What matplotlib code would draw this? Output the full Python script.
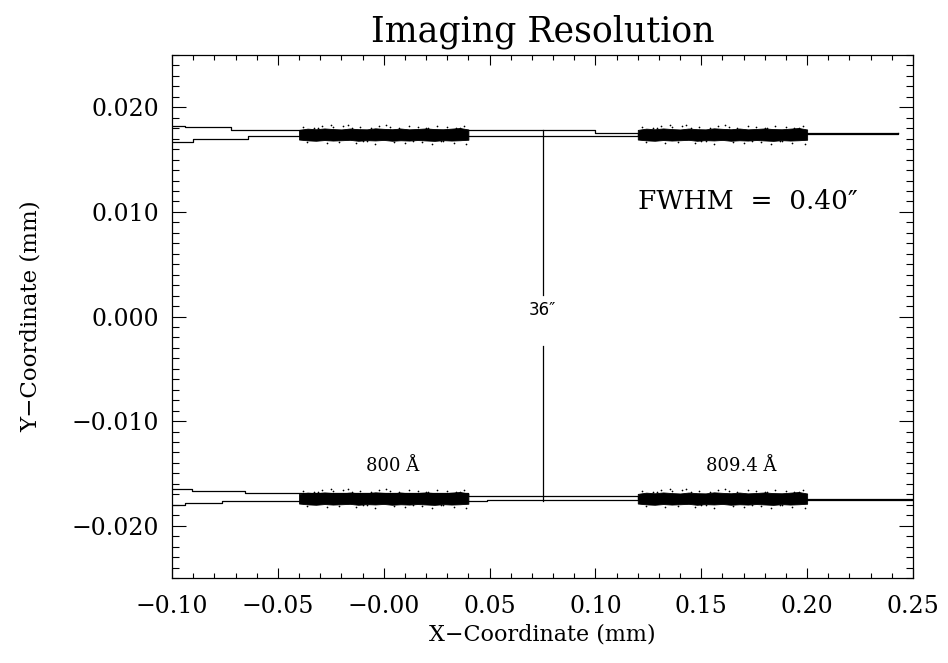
import matplotlib
matplotlib.use("Agg")
import matplotlib.pyplot as plt
from matplotlib.ticker import MultipleLocator

# ---------------- data ----------------
x_limits = [-0.10, 0.25]
y_limits = [-0.025, 0.025]
x_ticks = [-0.10, -0.05, 0.00, 0.05, 0.10, 0.15, 0.20, 0.25]
x_tick_labels = ["\u22120.10", "\u22120.05", "\u22120.00", "0.05", "0.10", "0.15", "0.20", "0.25"]
y_ticks = [-0.020, -0.010, 0.000, 0.010, 0.020]
y_tick_labels = ["\u22120.020", "\u22120.010", "0.000", "0.010", "0.020"]

# spot clouds: centre x, centre y
spot_centre_x = [0.000, 0.160, 0.000, 0.160]
spot_centre_y = [0.0174, 0.0174, -0.0174, -0.0174]
# shared spot profile: x offsets, upper and lower half-thickness of the dense core
spot_dx = [-0.040, -0.036, -0.032, -0.028, -0.024, -0.020, -0.016, -0.012, -0.008, -0.004,
           0.000, 0.004, 0.008, 0.012, 0.016, 0.020, 0.024, 0.028, 0.032, 0.036, 0.040]
spot_up = [0.00044, 0.00056, 0.00050, 0.00058, 0.00052, 0.00048, 0.00057, 0.00051, 0.00049, 0.00059,
           0.00054, 0.00050, 0.00057, 0.00049, 0.00053, 0.00058, 0.00052, 0.00050, 0.00056, 0.00062, 0.00048]
spot_dn = [0.00048, 0.00056, 0.00060, 0.00053, 0.00058, 0.00055, 0.00051, 0.00060, 0.00054, 0.00057,
           0.00052, 0.00060, 0.00055, 0.00058, 0.00053, 0.00057, 0.00061, 0.00054, 0.00058, 0.00055, 0.00050]
# stray rays around each spot (offsets from centre)
stray_dx = [-0.038, -0.033, -0.029, -0.024, -0.019, -0.015, -0.011, -0.006, -0.002, 0.003,
            0.007, 0.012, 0.016, 0.021, 0.025, 0.030, 0.034, 0.038, -0.036, -0.027,
            -0.021, -0.013, -0.004, 0.005, 0.010, 0.018, 0.023, 0.028, 0.033, 0.039,
            -0.031, -0.017, -0.008, 0.001, 0.014, 0.027, 0.036, -0.025, -0.010, 0.020]
stray_dy = [0.00072, 0.00063, 0.00081, 0.00067, 0.00085, 0.00064, 0.00076, 0.00066, 0.00083, 0.00069,
            0.00062, 0.00079, 0.00068, 0.00065, 0.00082, 0.00073, 0.00066, 0.00086,
            -0.00074, -0.00086, -0.00067, -0.00079, -0.00090, -0.00068, -0.00083, -0.00071, -0.00088,
            -0.00066, -0.00080, -0.00092,
            0.00064, 0.00090, -0.00066, 0.00088, -0.00065, -0.00062, 0.00066, 0.00087, -0.00064, 0.00064]

# beam outline step lines (upper pair)
ua_x = [-0.100, -0.094, -0.072, 0.0998, 0.243]
ua_y = [0.01819, 0.01807, 0.01786, 0.01757, 0.01757]
ub_x = [-0.100, -0.090, -0.064, 0.120, 0.243, 0.243]
ub_y = [0.01667, 0.01695, 0.01724, 0.01745, 0.01745, 0.01757]
# beam outline step lines (lower pair)
la_x = [-0.100, -0.0906, -0.0655, 0.040, 0.120, 0.260]
la_y = [-0.01648, -0.01670, -0.01690, -0.01715, -0.01740, -0.01740]
lb_x = [-0.100, -0.0939, -0.0765, 0.049, 0.0998, 0.260]
lb_y = [-0.01805, -0.01781, -0.01765, -0.01759, -0.01750, -0.01750]

# separation marker
sep_x = 0.075
sep_top, sep_gap_top, sep_gap_bot, sep_bot = 0.0178, 0.0021, -0.0028, -0.0176
sep_label = "36\u2033"
sep_label_y = 0.0006

wave_labels = ["800 \u00c5", "809.4 \u00c5"]
wave_label_x = [0.004, 0.169]
wave_label_y = -0.0143
fwhm_text = "FWHM  =  0.40\u2033"
fwhm_xy = (0.172, 0.0110)

# ---------------- figure ----------------
plt.rcParams['font.family'] = ['DejaVu Serif']
fig = plt.figure(figsize=(9.48, 6.63), dpi=100)
ax = fig.add_axes([172 / 948, 85 / 663, 741 / 948, 523 / 663])

for cx, cy in zip(spot_centre_x, spot_centre_y):
    xs = [cx + d for d in spot_dx]
    ax.fill_between(xs, [cy + u for u in spot_up], [cy - d for d in spot_dn],
                    color="black", linewidth=0.6, zorder=3)
    ax.scatter([cx + d for d in stray_dx], [cy + d for d in stray_dy],
               s=1.5, color="black", linewidths=0, zorder=3)

for xs, ys in [(ua_x, ua_y), (ub_x, ub_y), (la_x, la_y), (lb_x, lb_y)]:
    ax.plot(xs, ys, drawstyle="steps-post", color="black", linewidth=0.9, zorder=2)

ax.plot([sep_x, sep_x], [sep_top, sep_gap_top], color="black", linewidth=0.9)
ax.plot([sep_x, sep_x], [sep_gap_bot, sep_bot], color="black", linewidth=0.9)
ax.text(sep_x, sep_label_y, sep_label, ha="center", va="center", fontsize=12,
        family=["DejaVu Sans"])

for t, x in zip(wave_labels, wave_label_x):
    ax.text(x, wave_label_y, t, ha="center", va="center", fontsize=13)
ax.text(fwhm_xy[0], fwhm_xy[1], fwhm_text, ha="center", va="center", fontsize=19)

ax.set_xlim(*x_limits)
ax.set_ylim(*y_limits)
ax.set_xticks(x_ticks)
ax.set_xticklabels(x_tick_labels)
ax.set_yticks(y_ticks)
ax.set_yticklabels(y_tick_labels)
ax.xaxis.set_minor_locator(MultipleLocator(0.01))
ax.yaxis.set_minor_locator(MultipleLocator(0.001))
ax.tick_params(axis="both", which="both", direction="in", top=True, right=True,
               width=0.8, labelsize=17, colors="black")
ax.tick_params(axis="x", which="major", length=7.2, pad=12)
ax.tick_params(axis="x", which="minor", length=3.6)
ax.tick_params(axis="y", which="major", length=10, pad=9)
ax.tick_params(axis="y", which="minor", length=5)
for s in ax.spines.values():
    s.set_linewidth(0.9)

ax.set_xlabel("X\u2212Coordinate (mm)", fontsize=16, labelpad=4)
ax.set_ylabel("Y\u2212Coordinate (mm)", fontsize=16.5, labelpad=22)
ax.set_title("Imaging Resolution", fontsize=25, pad=10)

fig.savefig("out.png", dpi=100)
